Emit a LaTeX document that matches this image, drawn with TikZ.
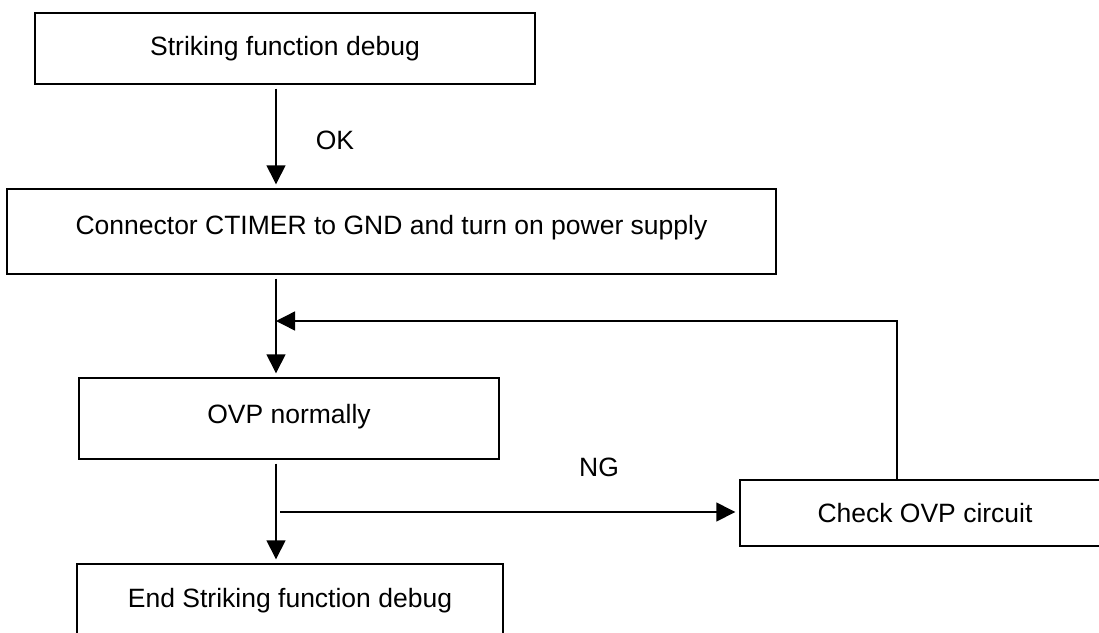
\documentclass[tikz,border=0pt]{standalone}
\usepackage{fontspec}
\setmainfont{Liberation Sans}
\usetikzlibrary{arrows.meta}
\begin{document}
\begin{tikzpicture}[x=1pt,y=-1pt,
  stepbox/.style={draw, line width=1.4pt, rectangle, inner sep=0pt,
    font=\fontsize{26.5}{31}\selectfont},
  flow/.style={line width=1.4pt, -{Triangle[length=19pt,width=19pt]},
    shorten <=4pt, shorten >=4pt},
  tag/.style={font=\fontsize{26.5}{31}\selectfont, inner sep=0pt}]
\useasboundingbox (0,0) rectangle (1099,632);
\clip (0,0) rectangle (1099,632);

% process steps
\node[stepbox, minimum width=500pt, minimum height=71pt] (b1) at (285,48.5) {Striking function debug};
\node[stepbox, minimum width=769pt, minimum height=85pt, text depth=14pt] (b2) at (391.5,231.5) {Connector CTIMER to GND and turn on power supply};
\node[stepbox, minimum width=420pt, minimum height=81pt, text depth=10pt] (b3) at (289,418.5) {OVP normally};
\node[stepbox, minimum width=370pt, minimum height=66pt] (b4) at (925,513) {Check OVP circuit};
\node[stepbox, minimum width=426pt, minimum height=74pt] (b5) at (290,601) {End Striking function debug};

% main vertical line and loop-back corner
\coordinate (spine) at (276,0);
\coordinate (ret) at (897,321);

\draw[flow] (b1.south -| spine) -- (b2.north -| spine);
\draw[flow] (b2.south -| spine) -- (b3.north -| spine);
\draw[flow] (b3.south -| spine) -- (b5.north -| spine);

% NG branch and return to the main line
\draw[flow] (spine |- b4.west) ++(0,-1) coordinate (ngs) -- (b4.west |- ngs);
\draw[line width=1.4pt, -{Triangle[length=19pt,width=19pt]}]
  (b4.north -| ret) -- (ret) -- (spine |- ret);

\node[tag] (ok) at (335,140) {OK};
\node[tag] (ng) at (599,467) {NG};
\end{tikzpicture}
\end{document}
